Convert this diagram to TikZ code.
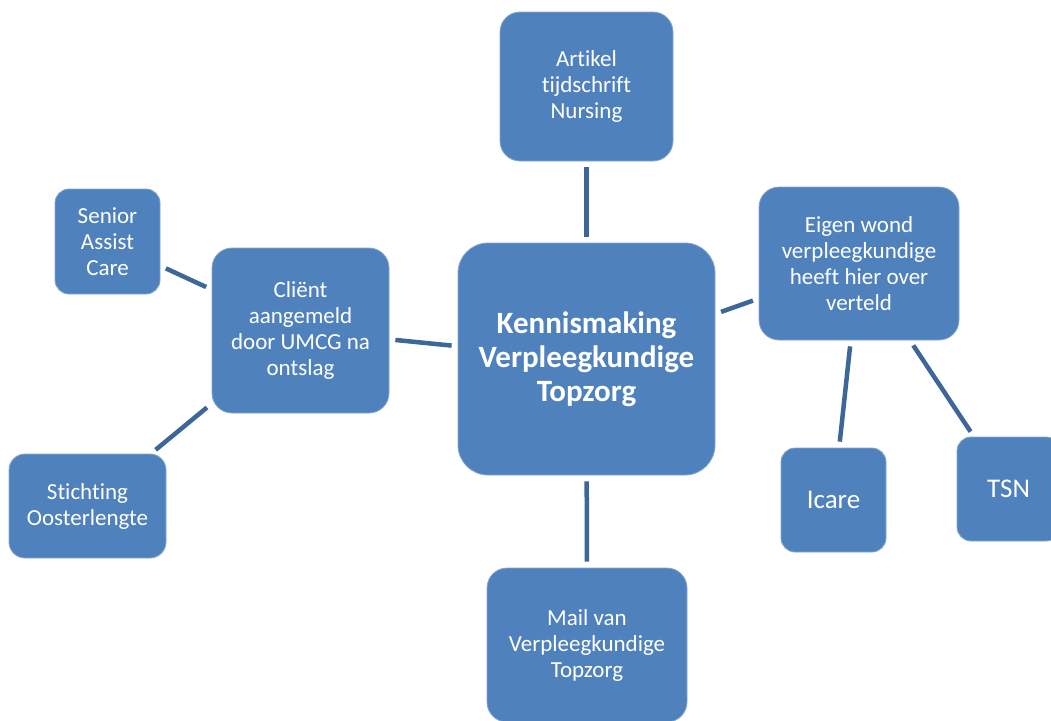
\documentclass[tikz,border=0pt]{standalone}
\usepackage{fontspec}
\setmainfont{Carlito}[RawFeature={-liga}]
\definecolor{boxblue}{HTML}{4F81BD}
\definecolor{linkblue}{HTML}{3D6699}
\tikzset{
  box/.style={fill=boxblue, draw=boxblue!70!white, line width=0.8pt, rounded corners=#1, text=white, align=center, inner sep=0pt,
    font=\fontsize{23}{26}\selectfont},
  box/.default=20pt,
  link/.style={draw=linkblue, line width=4.5pt, shorten >=6pt, shorten <=6pt}
}
\begin{document}
\begin{tikzpicture}[x=1pt,y=-1pt]
\useasboundingbox (0,0) rectangle (1051,720);
\clip (0,0) rectangle (1051,720);
\node[box=30pt, minimum width=257pt, minimum height=232pt, font=\bfseries\fontsize{31}{34}\selectfont] (cent) at (586.5,359) {Kennismaking\\Verpleegkundige\\Topzorg};
\node[box, minimum width=173pt, minimum height=149pt] (art) at (586.5,86.5) {Artikel\\tijdschrift\\Nursing};
\node[box, minimum width=200pt, minimum height=153pt] (eig) at (859,263.5) {Eigen wond\\verpleegkundige\\heeft hier over\\verteld};
\node[box, minimum width=177pt, minimum height=165pt] (cli) at (300.5,330.5) {Cliënt\\aangemeld\\door UMCG na\\ontslag};
\node[box=14pt, minimum width=105pt, minimum height=105pt] (sen) at (107.5,241.5) {Senior\\Assist\\Care};
\node[box=16pt, minimum width=157pt, minimum height=104pt] (sti) at (87.5,506) {Stichting\\Oosterlengte};
\node[box=14pt, minimum width=105pt, minimum height=104pt, font=\fontsize{27}{32}\selectfont] (ica) at (833.5,500) {Icare};
\node[box=14pt, minimum width=103pt, minimum height=104pt, font=\fontsize{27}{32}\selectfont] (tsn) at (1008.5,489) {TSN};
\node[box, minimum width=200pt, minimum height=154pt] (mail) at (587,645) {Mail van\\Verpleegkundige\\Topzorg};
\draw[link] (cent) -- (art);
\draw[link] (cent) -- (mail);
\draw[link] (cent) -- (cli);
\draw[link] (cent) -- (eig);
\draw[link] (cli) -- (sen);
\draw[link] (cli) -- (sti);
\draw[link] (eig) -- (ica);
\draw[link] (eig) -- (tsn);
\end{tikzpicture}
\end{document}
